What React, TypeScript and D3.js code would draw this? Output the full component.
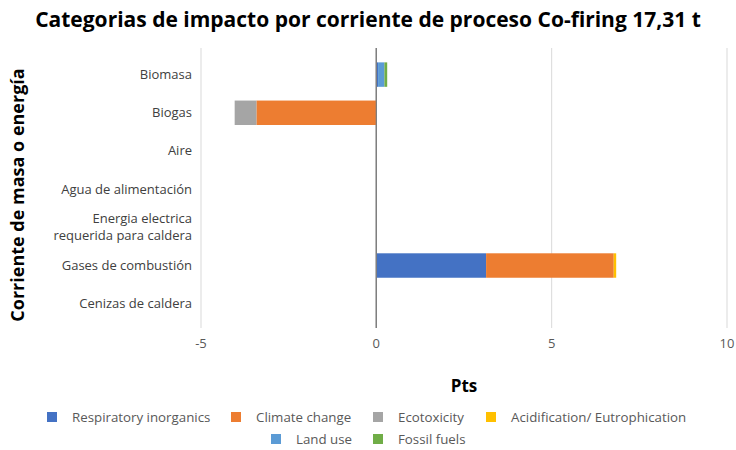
import React from "react";
import * as d3 from "d3";

const categories = [
  "Biomasa",
  "Biogas",
  "Aire",
  "Agua de alimentación",
  "Energia electrica\nrequerida para caldera",
  "Gases de combustión",
  "Cenizas de caldera",
];

const seriesNames = [
  "Respiratory inorganics",
  "Climate change",
  "Ecotoxicity",
  "Acidification/ Eutrophication",
  "Land use",
  "Fossil fuels",
];
const seriesColors = ["#4472C4", "#ED7D31", "#A5A5A5", "#FFC000", "#5B9BD5", "#70AD47"];

const respiratory = [0.05, 0, 0, 0, 0, 3.13, 0];
const climate = [0, -3.42, 0, 0, 0, 3.64, 0];
const ecotox = [0, -0.62, 0, 0, 0, 0, 0];
const acid = [0, 0, 0, 0, 0, 0.07, 0];
const landUse = [0.18, 0, 0, 0, 0, 0, 0];
const fossil = [0.08, 0, 0, 0, 0, 0, 0];
const seriesValues = [respiratory, climate, ecotox, acid, landUse, fossil];

const xTicks = [-5, 0, 5, 10];

const W = 736;
const H = 450;
const FONT = "'Open Sans', 'Noto Sans', sans-serif";

export default function App() {
  const x = d3.scaleLinear().domain([-5, 10]).range([201, 727]);
  const y = d3.scaleBand<string>().domain(categories).range([55.5, 322.8]).paddingInner(0.36).paddingOuter(0.18);
  const gridTop = 48;
  const gridBottom = 328;

  const bars: React.ReactNode[] = [];
  categories.forEach((c, ci) => {
    let pos = 0;
    let neg = 0;
    seriesValues.forEach((vals, si) => {
      const v = vals[ci];
      if (!v) return;
      let x0: number, x1: number;
      if (v > 0) {
        x0 = pos;
        x1 = pos + v;
        pos = x1;
      } else {
        x0 = neg + v;
        x1 = neg;
        neg = x0;
      }
      bars.push(
        <rect
          key={`${ci}-${si}`}
          x={x(x0)}
          y={y(c)!}
          width={x(x1) - x(x0)}
          height={y.bandwidth()}
          fill={seriesColors[si]}
        />
      );
    });
  });

  const legendRow1 = [
    { i: 0, sx: 47, tx: 72 },
    { i: 1, sx: 231, tx: 256 },
    { i: 2, sx: 373, tx: 398 },
    { i: 3, sx: 486, tx: 511 },
  ];
  const legendRow2 = [
    { i: 4, sx: 271, tx: 296 },
    { i: 5, sx: 373, tx: 398 },
  ];

  return (
    <svg width={W} height={H} style={{ display: "block", position: "absolute", left: 0, top: 0 }} fontFamily={FONT}>
      <rect width={W} height={H} fill="#fff" />
      <text x={368} y={27} textAnchor="middle" fontSize={21} fontWeight="bold" fill="#000">
        Categorias de impacto por corriente de proceso Co-firing 17,31 t
      </text>

      {xTicks.map((t) => (
        <line key={t} x1={x(t)} x2={x(t)} y1={gridTop} y2={gridBottom} stroke={t === 0 ? "#7F7F7F" : "#D9D9D9"} strokeWidth={t === 0 ? 1.3 : 1} />
      ))}

      {bars}

      <line x1={x(0)} x2={x(0)} y1={gridTop} y2={gridBottom} stroke="#7F7F7F" strokeWidth={1.3} />

      {xTicks.map((t) => (
        <text key={t} x={x(t)} y={348} textAnchor="middle" fontSize={13} fill="#595959">
          {t}
        </text>
      ))}

      {categories.map((c) => {
        const lines = c.split("\n");
        const cy = y(c)! + y.bandwidth() / 2;
        return (
          <text key={c} x={192} textAnchor="end" fontSize={13} fill="#404040">
            {lines.map((l, li) => (
              <tspan key={li} x={192} y={cy + 4.5 + (li - (lines.length - 1) / 2) * 17}>
                {l}
              </tspan>
            ))}
          </text>
        );
      })}

      <text transform={`translate(24,${195}) rotate(-90)`} textAnchor="middle" fontSize={18} fontWeight="bold" fill="#000">
        Corriente de masa o energía
      </text>

      <text x={464} y={392} textAnchor="middle" fontSize={17} fontWeight="bold" fill="#000">
        Pts
      </text>

      {legendRow1.map(({ i, sx, tx }) => (
        <g key={i}>
          <rect x={sx} y={412} width={10} height={10} fill={seriesColors[i]} />
          <text x={tx} y={421.5} fontSize={13.3} fill="#595959">
            {seriesNames[i]}
          </text>
        </g>
      ))}
      {legendRow2.map(({ i, sx, tx }) => (
        <g key={i}>
          <rect x={sx} y={434} width={10} height={10} fill={seriesColors[i]} />
          <text x={tx} y={443.5} fontSize={13.3} fill="#595959">
            {seriesNames[i]}
          </text>
        </g>
      ))}
    </svg>
  );
}
